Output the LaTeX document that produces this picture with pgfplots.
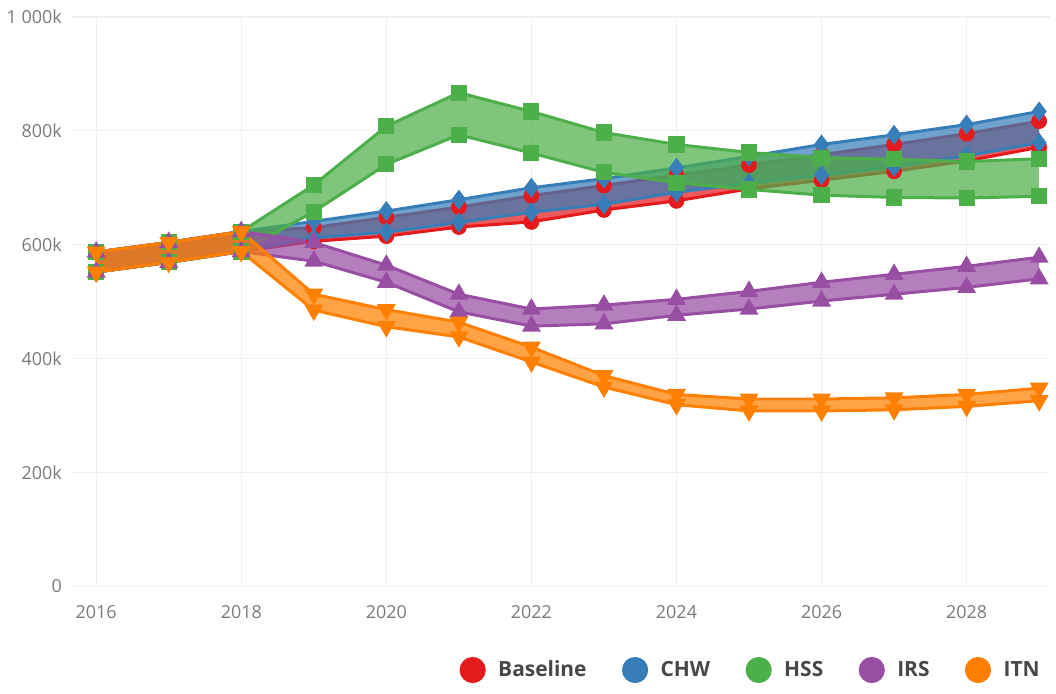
\documentclass[border=0pt]{standalone}
\usepackage{fontspec}
\setmainfont{Open Sans}
\usepackage{pgfplots}
\pgfplotsset{compat=1.18}
\usepackage{pgfplotstable}
\usepgfplotslibrary{fillbetween}
\usetikzlibrary{calc}

\definecolor{cBase}{HTML}{E41A1C}
\definecolor{cCHW}{HTML}{377EB8}
\definecolor{cHSS}{HTML}{4DAF4A}
\definecolor{cIRS}{HTML}{984EA3}
\definecolor{cITN}{HTML}{FF7F00}
\definecolor{ticktxt}{HTML}{7A7A7A}
\definecolor{gridc}{HTML}{EFEFEF}

% values in thousands
\pgfplotstableread{
yr   hi  lo
2016 587 552
2017 604 569
2018 623 588
2019 630 606
2020 648 615
2021 666 631
2022 686 640
2023 704 661
2024 722 677
2025 740 698
2026 758 713
2027 776 729
2028 795 747
2029 817 771
}\tBase
\pgfplotstableread{
yr   hi  lo
2016 587 552
2017 604 569
2018 623 588
2019 641 612
2020 659 622
2021 679 639
2022 700 657
2023 716 671
2024 735 692
2025 755 708
2026 776 722
2027 793 737
2028 811 756
2029 834 779
}\tCHW
\pgfplotstableread{
yr   hi  lo
2016 587 552
2017 604 569
2018 623 588
2019 705 658
2020 808 741
2021 867 793
2022 834 761
2023 797 727
2024 776 709
2025 762 697
2026 753 687
2027 750 683
2028 746 682
2029 751 685
}\tHSS
\pgfplotstableread{
yr   hi  lo
2016 587 552
2017 604 569
2018 623 588
2019 604 571
2020 564 534
2021 513 482
2022 487 457
2023 494 461
2024 504 476
2025 518 487
2026 534 501
2027 548 513
2028 562 525
2029 578 540
}\tIRS
\pgfplotstableread{
yr   hi  lo
2016 587 552
2017 604 569
2018 623 588
2019 513 485
2020 486 456
2021 464 438
2022 420 394
2023 370 350
2024 337 319
2025 329 308
2026 329 308
2027 331 310
2028 337 316
2029 348 326
}\tITN

\begin{document}
\begin{tikzpicture}
\begin{axis}[
  width=491pt, height=285.5pt, scale only axis,
  xmin=2015.65, xmax=2029.15, ymin=0, ymax=1000,
  xtick={2016,2018,...,2028},
  xticklabels={2016,2018,2020,2022,2024,2026,2028},
  ytick={0,200,...,1000},
  yticklabels={0,200k,400k,600k,800k,1\ 000k},
  axis line style={draw=none},
  major tick length=0pt,
  grid=major,
  grid style={draw=gridc, line width=0.6pt},
  tick label style={font=\fontsize{9}{10}\selectfont, text=ticktxt},
  xticklabel style={yshift=-6pt},
  yticklabel style={xshift=-1pt},
  fill between/on layer=main,
  legend columns=5,
  legend style={draw=none, fill=none, at={(1,-0.147)}, anchor=east,
    font=\fontsize{10.5}{12}\selectfont\bfseries, text=black!72,
    /tikz/every odd column/.append style={column sep=5pt},
    /tikz/every even column/.append style={column sep=16.5pt}},
  legend cell align=left,
  every axis plot/.append style={line width=1.5pt, forget plot},
]
% Baseline
\addplot[cBase, name path=ah, mark=*, mark size=3.2pt] table[x=yr,y=hi]{\tBase};
\addplot[cBase, name path=al, mark=*, mark size=3.2pt] table[x=yr,y=lo]{\tBase};
\addplot[cBase, fill opacity=0.72, draw=none] fill between[of=ah and al];
% CHW
\addplot[cCHW, name path=bh, mark=diamond*, mark size=3.8pt] table[x=yr,y=hi]{\tCHW};
\addplot[cCHW, name path=bl, mark=diamond*, mark size=3.8pt] table[x=yr,y=lo]{\tCHW};
\addplot[cCHW, fill opacity=0.72, draw=none] fill between[of=bh and bl];
% HSS
\addplot[cHSS, name path=ch, mark=square*, mark size=3.3pt] table[x=yr,y=hi]{\tHSS};
\addplot[cHSS, name path=cl, mark=square*, mark size=3.3pt] table[x=yr,y=lo]{\tHSS};
\addplot[cHSS, fill opacity=0.72, draw=none] fill between[of=ch and cl];
% IRS
\addplot[cIRS, name path=dh, mark=triangle*, mark size=4pt] table[x=yr,y=hi]{\tIRS};
\addplot[cIRS, name path=dl, mark=triangle*, mark size=4pt] table[x=yr,y=lo]{\tIRS};
\addplot[cIRS, fill opacity=0.72, draw=none] fill between[of=dh and dl];
% ITN
\addplot[cITN, name path=eh, mark=triangle*, mark size=4pt, mark options={rotate=180}] table[x=yr,y=hi]{\tITN};
\addplot[cITN, name path=el, mark=triangle*, mark size=4pt, mark options={rotate=180}] table[x=yr,y=lo]{\tITN};
\addplot[cITN, fill opacity=0.72, draw=none] fill between[of=eh and el];

\addlegendimage{only marks, mark=*, mark size=5.8pt, cBase}
\addlegendentry{Baseline}
\addlegendimage{only marks, mark=*, mark size=5.8pt, cCHW}
\addlegendentry{CHW}
\addlegendimage{only marks, mark=*, mark size=5.8pt, cHSS}
\addlegendentry{HSS}
\addlegendimage{only marks, mark=*, mark size=5.8pt, cIRS}
\addlegendentry{IRS}
\addlegendimage{only marks, mark=*, mark size=5.8pt, cITN}
\addlegendentry{ITN}
\end{axis}
\path[use as bounding box] ($(current axis.south west)+(-34pt,-53.5pt)$) rectangle ($(current axis.north east)+(3pt,8.5pt)$);
\end{tikzpicture}
\end{document}
